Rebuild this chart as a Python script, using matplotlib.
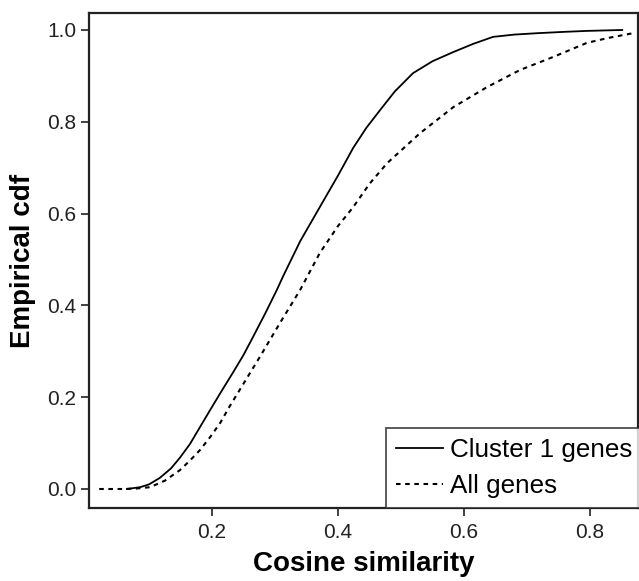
import matplotlib
matplotlib.use("Agg")
import matplotlib.pyplot as plt

plt.rcParams['font.family'] = ['Liberation Sans', 'DejaVu Sans']

# empirical cdf, cluster 1 genes (solid)
cluster_x = [0.065, 0.086, 0.100, 0.117, 0.135, 0.149, 0.165, 0.181, 0.197, 0.215,
             0.233, 0.250, 0.265, 0.285, 0.303, 0.313, 0.340, 0.371, 0.400, 0.424,
             0.445, 0.467, 0.490, 0.519, 0.550, 0.583, 0.615, 0.646, 0.680, 0.716,
             0.760, 0.795, 0.851]
cluster_y = [0.0, 0.004, 0.010, 0.024, 0.045, 0.068, 0.098, 0.135, 0.172, 0.213,
             0.253, 0.292, 0.331, 0.384, 0.434, 0.464, 0.540, 0.614, 0.683, 0.743,
             0.787, 0.826, 0.866, 0.906, 0.932, 0.952, 0.970, 0.985, 0.990, 0.993,
             0.996, 0.998, 1.0]

# all genes (dashed)
all_x = [0.021, 0.060, 0.080, 0.102, 0.125, 0.149, 0.165, 0.181, 0.197, 0.213,
         0.228, 0.244, 0.260, 0.276, 0.292, 0.308, 0.324, 0.340, 0.371, 0.400,
         0.424, 0.450, 0.478, 0.530, 0.583, 0.637, 0.689, 0.741, 0.795, 0.830,
         0.868]
all_y = [0.0, 0.0, 0.001, 0.004, 0.018, 0.041, 0.062, 0.085, 0.113, 0.144,
         0.180, 0.216, 0.252, 0.288, 0.325, 0.362, 0.398, 0.434, 0.514, 0.573,
         0.614, 0.665, 0.710, 0.775, 0.832, 0.876, 0.913, 0.941, 0.972, 0.983,
         0.993]

x_ticks = [0.2, 0.4, 0.6, 0.8]
y_ticks = [0.0, 0.2, 0.4, 0.6, 0.8, 1.0]

fig = plt.figure(figsize=(6.39, 5.81), dpi=100)
ax = fig.add_axes([89 / 639, 73 / 581, 549 / 639, 495 / 581])

ax.plot(cluster_x, cluster_y, color='black', lw=1.3, label='Cluster 1 genes')
ax.plot(all_x, all_y, color='black', lw=1.5, linestyle=(0, (2.2, 2.2)), label='All genes')

ax.set_xlim(0.0048, 0.876)
ax.set_ylim(-0.0414, 1.037)
ax.set_xticks(x_ticks)
ax.set_yticks(y_ticks)
ax.set_xticklabels(['%.1f' % v for v in x_ticks])
ax.set_yticklabels(['%.1f' % v for v in y_ticks])
ax.tick_params(direction='out', length=6, width=1.2, labelsize=15,
               colors='#222222', pad=3)
ax.tick_params(axis='x', pad=5)
for s in ax.spines.values():
    s.set_linewidth(1.6)
    s.set_color('#222222')

ax.set_xlabel('Cosine similarity', fontsize=20, fontweight='bold', labelpad=6)
ax.set_ylabel('Empirical cdf', fontsize=20, fontweight='bold', labelpad=8)

# legend box runs past the right edge like in the original
leg = ax.legend(loc='lower left', bbox_to_anchor=((386 - 89) / 549, 0),
                borderaxespad=0, fancybox=False, fontsize=18.7,
                handlelength=1.8, handletextpad=0.25, labelspacing=0.45,
                borderpad=0.4, edgecolor='#222222')
leg.get_frame().set_linewidth(1.3)

plt.savefig('out.png', dpi=100)
